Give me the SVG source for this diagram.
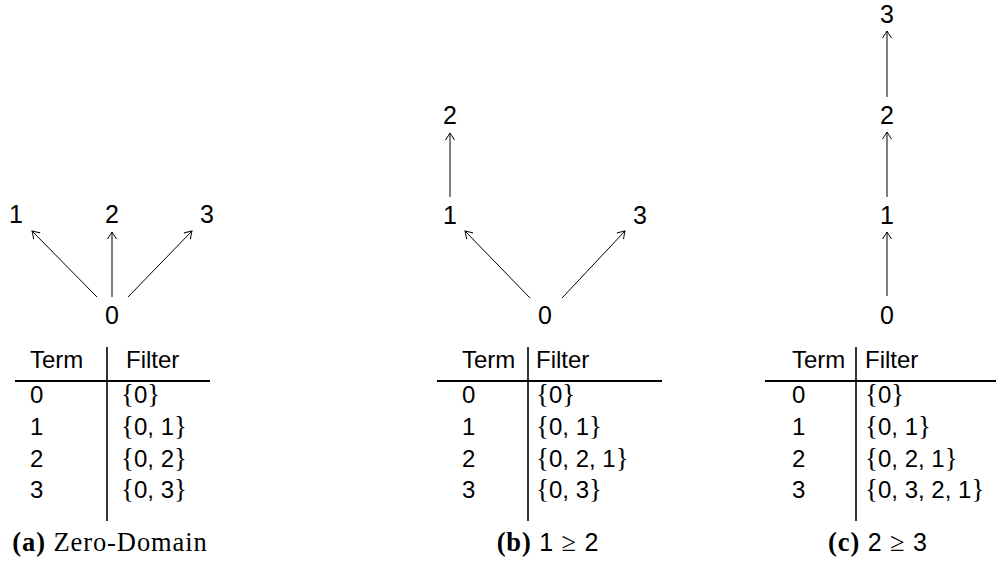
<svg xmlns="http://www.w3.org/2000/svg" width="999" height="570" viewBox="0 0 999 570">
<style>
  .n { font-family: "Liberation Sans", Arial, sans-serif; font-size: 25px; fill: #000; text-anchor: middle; }
  .t { font-family: "Liberation Sans", Arial, sans-serif; font-size: 24px; fill: #000; }
  .br { font-family: "Liberation Serif", "Times New Roman", serif; font-size: 27px; }
  .cap { font-family: "Liberation Serif", "Times New Roman", serif; font-size: 26.5px; letter-spacing: 0.9px; fill: #000; text-anchor: middle; }
  .capb { font-weight: bold; }
  .capm { font-family: "Liberation Sans", Arial, sans-serif; font-size: 25px; }
  .e { stroke: #000; stroke-width: 1; fill: none; marker-end: url(#ar); }
  .rule { stroke: #000; stroke-width: 2.2; }
  .vl { stroke: #000; stroke-width: 1.6; }
</style>
<defs>
  <marker id="ar" markerUnits="userSpaceOnUse" markerWidth="12" markerHeight="12" viewBox="-8 -6 10 12" refX="0" refY="0" orient="auto">
    <path d="M -7,-4.5 Q -2,-1.2 0,0 Q -2,1.2 -7,4.5" fill="none" stroke="#000" stroke-width="1"/>
  </marker>
</defs>
<rect width="999" height="570" fill="#fff"/>

<!-- connectors -->
<g id="connectors">
  <line class="e" x1="97" y1="297" x2="32" y2="231"/>
  <line class="e" x1="112" y1="297" x2="112" y2="232"/>
  <line class="e" x1="128" y1="297" x2="192" y2="231"/>
  <line class="e" x1="450" y1="197" x2="450" y2="133"/>
  <line class="e" x1="530" y1="298" x2="465" y2="231"/>
  <line class="e" x1="562" y1="298" x2="625" y2="231"/>
  <line class="e" x1="887" y1="296" x2="887" y2="232"/>
  <line class="e" x1="887" y1="197" x2="887" y2="132"/>
  <line class="e" x1="887" y1="97" x2="887" y2="31"/>
</g>

<!-- panel (a) nodes -->
<g id="a-n0"><text class="n" x="112" y="324">0</text></g>
<g id="a-n1"><text class="n" x="16" y="223">1</text></g>
<g id="a-n2"><text class="n" x="112" y="223">2</text></g>
<g id="a-n3"><text class="n" x="207" y="223">3</text></g>

<!-- panel (b) nodes -->
<g id="b-n0"><text class="n" x="545" y="324">0</text></g>
<g id="b-n1"><text class="n" x="450" y="224">1</text></g>
<g id="b-n2"><text class="n" x="450" y="124">2</text></g>
<g id="b-n3"><text class="n" x="640" y="224">3</text></g>

<!-- panel (c) nodes -->
<g id="c-n0"><text class="n" x="887" y="324">0</text></g>
<g id="c-n1"><text class="n" x="887" y="224">1</text></g>
<g id="c-n2"><text class="n" x="887" y="124">2</text></g>
<g id="c-n3"><text class="n" x="887" y="23">3</text></g>

<!-- table (a) -->
<g id="table-a">
  <line class="vl" x1="107" y1="347" x2="107" y2="521"/>
  <line class="rule" x1="15" y1="381" x2="210" y2="381"/>
  <text class="t" x="30" y="368">Term</text>
  <text class="t" x="126" y="368">Filter</text>
  <text class="t" x="30" y="403">0</text>
  <text class="t" x="30" y="435">1</text>
  <text class="t" x="30" y="467">2</text>
  <text class="t" x="30" y="498">3</text>
  <text class="t" x="121" y="403"><tspan class="br">{</tspan>0<tspan class="br">}</tspan></text>
  <text class="t" x="121" y="435"><tspan class="br">{</tspan>0, 1<tspan class="br">}</tspan></text>
  <text class="t" x="121" y="467"><tspan class="br">{</tspan>0, 2<tspan class="br">}</tspan></text>
  <text class="t" x="121" y="498"><tspan class="br">{</tspan>0, 3<tspan class="br">}</tspan></text>
</g>
<g id="caption-a"><text class="cap" x="110" y="551"><tspan class="capb">(a)</tspan> Zero-Domain</text></g>

<!-- table (b) -->
<g id="table-b">
  <line class="vl" x1="528" y1="347" x2="528" y2="521"/>
  <line class="rule" x1="437" y1="381" x2="662" y2="381"/>
  <text class="t" x="462" y="368">Term</text>
  <text class="t" x="536" y="368">Filter</text>
  <text class="t" x="462" y="403">0</text>
  <text class="t" x="462" y="435">1</text>
  <text class="t" x="462" y="467">2</text>
  <text class="t" x="462" y="498">3</text>
  <text class="t" x="536" y="403"><tspan class="br">{</tspan>0<tspan class="br">}</tspan></text>
  <text class="t" x="536" y="435"><tspan class="br">{</tspan>0, 1<tspan class="br">}</tspan></text>
  <text class="t" x="536" y="467"><tspan class="br">{</tspan>0, 2, 1<tspan class="br">}</tspan></text>
  <text class="t" x="536" y="498"><tspan class="br">{</tspan>0, 3<tspan class="br">}</tspan></text>
</g>
<g id="caption-b"><text class="cap" x="548" y="551"><tspan class="capb">(b)</tspan> <tspan class="capm">1</tspan> ≥ <tspan class="capm">2</tspan></text></g>

<!-- table (c) -->
<g id="table-c">
  <line class="vl" x1="856" y1="347" x2="856" y2="521"/>
  <line class="rule" x1="765" y1="381" x2="996" y2="381"/>
  <text class="t" x="792" y="368">Term</text>
  <text class="t" x="865" y="368">Filter</text>
  <text class="t" x="792" y="403">0</text>
  <text class="t" x="792" y="435">1</text>
  <text class="t" x="792" y="467">2</text>
  <text class="t" x="792" y="498">3</text>
  <text class="t" x="865" y="403"><tspan class="br">{</tspan>0<tspan class="br">}</tspan></text>
  <text class="t" x="865" y="435"><tspan class="br">{</tspan>0, 1<tspan class="br">}</tspan></text>
  <text class="t" x="865" y="467"><tspan class="br">{</tspan>0, 2, 1<tspan class="br">}</tspan></text>
  <text class="t" x="865" y="498"><tspan class="br">{</tspan>0, 3, 2, 1<tspan class="br">}</tspan></text>
</g>
<g id="caption-c"><text class="cap" x="878" y="551"><tspan class="capb">(c)</tspan> <tspan class="capm">2</tspan> ≥ <tspan class="capm">3</tspan></text></g>
</svg>
